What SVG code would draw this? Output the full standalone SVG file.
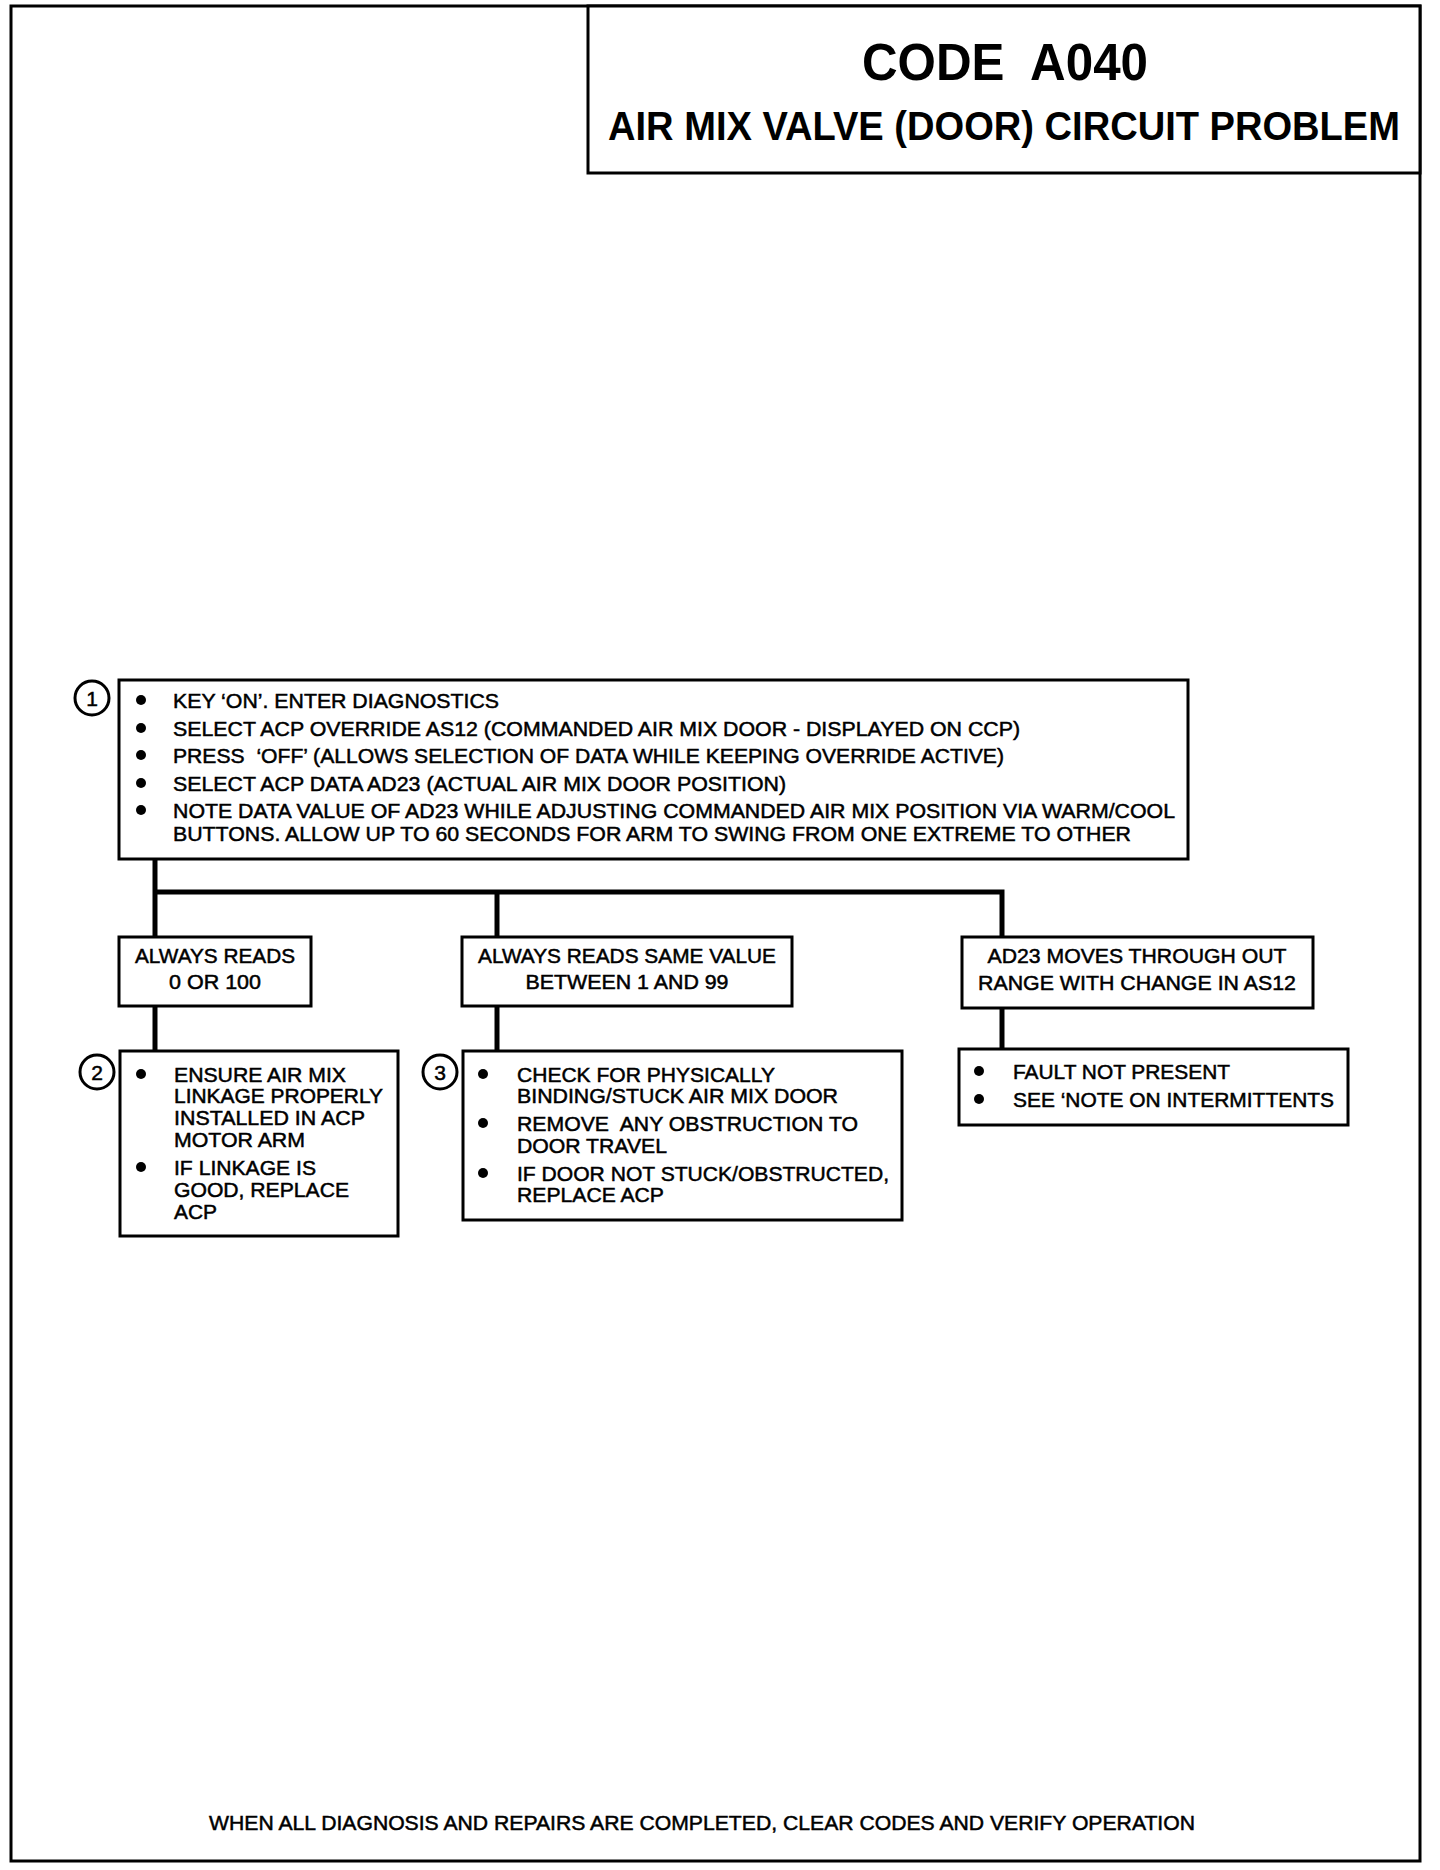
<svg xmlns="http://www.w3.org/2000/svg" width="1440" height="1870" viewBox="0 0 1440 1870" xml:space="preserve">
<style>
text{white-space:pre}
.box{fill:#fff;stroke:#000;stroke-width:3}
.t{font-family:"Liberation Sans",Arial,sans-serif;font-size:21px;fill:#000;stroke:#000;stroke-width:0.5}
.c{text-anchor:middle}
.h{font-family:"Liberation Sans",Arial,sans-serif;font-weight:bold;fill:#000;text-anchor:middle}
.b{fill:#000}
.num{fill:#fff;stroke:#000;stroke-width:3}
.conn{stroke:#000;stroke-width:5;fill:none}
</style>
<rect width="1440" height="1870" fill="#fff"/>
<rect x="11" y="6" width="1409" height="1855" fill="none" stroke="#000" stroke-width="3"/>
<g id="title">
<rect class="box" x="588" y="6" width="832" height="167"/>
<text class="h" x="1005" y="80" font-size="52" textLength="286" lengthAdjust="spacingAndGlyphs">CODE  A040</text>
<text class="h" x="1004" y="140" font-size="40" textLength="792" lengthAdjust="spacingAndGlyphs">AIR MIX VALVE (DOOR) CIRCUIT PROBLEM</text>
</g>
<g id="connectors">
<path class="conn" d="M155 859 V937"/>
<path class="conn" d="M155 892 H1002 V937"/>
<path class="conn" d="M497 892 V937"/>
<path class="conn" d="M155 1006 V1051"/>
<path class="conn" d="M497 1006 V1051"/>
<path class="conn" d="M1002 1008 V1049"/>
</g>
<g id="step1">
<rect class="box" x="119" y="680" width="1069" height="179"/>
<circle class="num" cx="92" cy="698" r="17"/>
<text class="t c" x="92" y="706" font-size="22">1</text>
<circle class="b" cx="141" cy="700" r="5"/>
<circle class="b" cx="141" cy="728" r="5"/>
<circle class="b" cx="141" cy="755" r="5"/>
<circle class="b" cx="141" cy="783" r="5"/>
<circle class="b" cx="141" cy="810" r="5"/>
<text class="t" x="173" y="708" textLength="326" lengthAdjust="spacingAndGlyphs">KEY ‘ON’. ENTER DIAGNOSTICS</text>
<text class="t" x="173" y="736" textLength="847" lengthAdjust="spacingAndGlyphs">SELECT ACP OVERRIDE AS12 (COMMANDED AIR MIX DOOR - DISPLAYED ON CCP)</text>
<text class="t" x="173" y="763" textLength="831" lengthAdjust="spacingAndGlyphs">PRESS  ‘OFF’ (ALLOWS SELECTION OF DATA WHILE KEEPING OVERRIDE ACTIVE)</text>
<text class="t" x="173" y="791" textLength="613" lengthAdjust="spacingAndGlyphs">SELECT ACP DATA AD23 (ACTUAL AIR MIX DOOR POSITION)</text>
<text class="t" x="173" y="818" textLength="1002" lengthAdjust="spacingAndGlyphs">NOTE DATA VALUE OF AD23 WHILE ADJUSTING COMMANDED AIR MIX POSITION VIA WARM/COOL</text>
<text class="t" x="173" y="841" textLength="958" lengthAdjust="spacingAndGlyphs">BUTTONS. ALLOW UP TO 60 SECONDS FOR ARM TO SWING FROM ONE EXTREME TO OTHER</text>
</g>
<g id="condA">
<rect class="box" x="119" y="937" width="192" height="69"/>
<text class="t c" x="215" y="963" textLength="160" lengthAdjust="spacingAndGlyphs">ALWAYS READS</text>
<text class="t c" x="215" y="989" textLength="92" lengthAdjust="spacingAndGlyphs">0 OR 100</text>
</g>
<g id="condB">
<rect class="box" x="462" y="937" width="330" height="69"/>
<text class="t c" x="627" y="963" textLength="298" lengthAdjust="spacingAndGlyphs">ALWAYS READS SAME VALUE</text>
<text class="t c" x="627" y="989" textLength="203" lengthAdjust="spacingAndGlyphs">BETWEEN 1 AND 99</text>
</g>
<g id="condC">
<rect class="box" x="962" y="937" width="351" height="71"/>
<text class="t c" x="1137" y="963" textLength="299" lengthAdjust="spacingAndGlyphs">AD23 MOVES THROUGH OUT</text>
<text class="t c" x="1137" y="990" textLength="318" lengthAdjust="spacingAndGlyphs">RANGE WITH CHANGE IN AS12</text>
</g>
<g id="step2">
<rect class="box" x="120" y="1051" width="278" height="185"/>
<circle class="num" cx="97" cy="1072" r="17"/>
<text class="t c" x="97" y="1080" font-size="22">2</text>
<circle class="b" cx="141" cy="1074" r="5"/>
<circle class="b" cx="141" cy="1167" r="5"/>
<text class="t" x="174" y="1082" textLength="172" lengthAdjust="spacingAndGlyphs">ENSURE AIR MIX</text>
<text class="t" x="174" y="1103" textLength="209" lengthAdjust="spacingAndGlyphs">LINKAGE PROPERLY</text>
<text class="t" x="174" y="1125" textLength="191" lengthAdjust="spacingAndGlyphs">INSTALLED IN ACP</text>
<text class="t" x="174" y="1147" textLength="131" lengthAdjust="spacingAndGlyphs">MOTOR ARM</text>
<text class="t" x="174" y="1175" textLength="142" lengthAdjust="spacingAndGlyphs">IF LINKAGE IS</text>
<text class="t" x="174" y="1197" textLength="175" lengthAdjust="spacingAndGlyphs">GOOD, REPLACE</text>
<text class="t" x="174" y="1219" textLength="43" lengthAdjust="spacingAndGlyphs">ACP</text>
</g>
<g id="step3">
<rect class="box" x="463" y="1051" width="439" height="169"/>
<circle class="num" cx="440" cy="1072" r="17"/>
<text class="t c" x="440" y="1080" font-size="22">3</text>
<circle class="b" cx="483" cy="1074" r="5"/>
<circle class="b" cx="483" cy="1123" r="5"/>
<circle class="b" cx="483" cy="1173" r="5"/>
<text class="t" x="517" y="1082" textLength="258" lengthAdjust="spacingAndGlyphs">CHECK FOR PHYSICALLY</text>
<text class="t" x="517" y="1103" textLength="321" lengthAdjust="spacingAndGlyphs">BINDING/STUCK AIR MIX DOOR</text>
<text class="t" x="517" y="1131" textLength="341" lengthAdjust="spacingAndGlyphs">REMOVE  ANY OBSTRUCTION TO</text>
<text class="t" x="517" y="1153" textLength="150" lengthAdjust="spacingAndGlyphs">DOOR TRAVEL</text>
<text class="t" x="517" y="1181" textLength="372" lengthAdjust="spacingAndGlyphs">IF DOOR NOT STUCK/OBSTRUCTED,</text>
<text class="t" x="517" y="1202" textLength="147" lengthAdjust="spacingAndGlyphs">REPLACE ACP</text>
</g>
<g id="step4">
<rect class="box" x="959" y="1049" width="389" height="76"/>
<circle class="b" cx="979" cy="1071" r="5"/>
<circle class="b" cx="979" cy="1099" r="5"/>
<text class="t" x="1013" y="1079" textLength="217" lengthAdjust="spacingAndGlyphs">FAULT NOT PRESENT</text>
<text class="t" x="1013" y="1107" textLength="321" lengthAdjust="spacingAndGlyphs">SEE ‘NOTE ON INTERMITTENTS</text>
</g>
<g id="footer">
<text class="t" x="209" y="1830" font-size="20" textLength="986" lengthAdjust="spacingAndGlyphs">WHEN ALL DIAGNOSIS AND REPAIRS ARE COMPLETED, CLEAR CODES AND VERIFY OPERATION</text>
</g>
</svg>
